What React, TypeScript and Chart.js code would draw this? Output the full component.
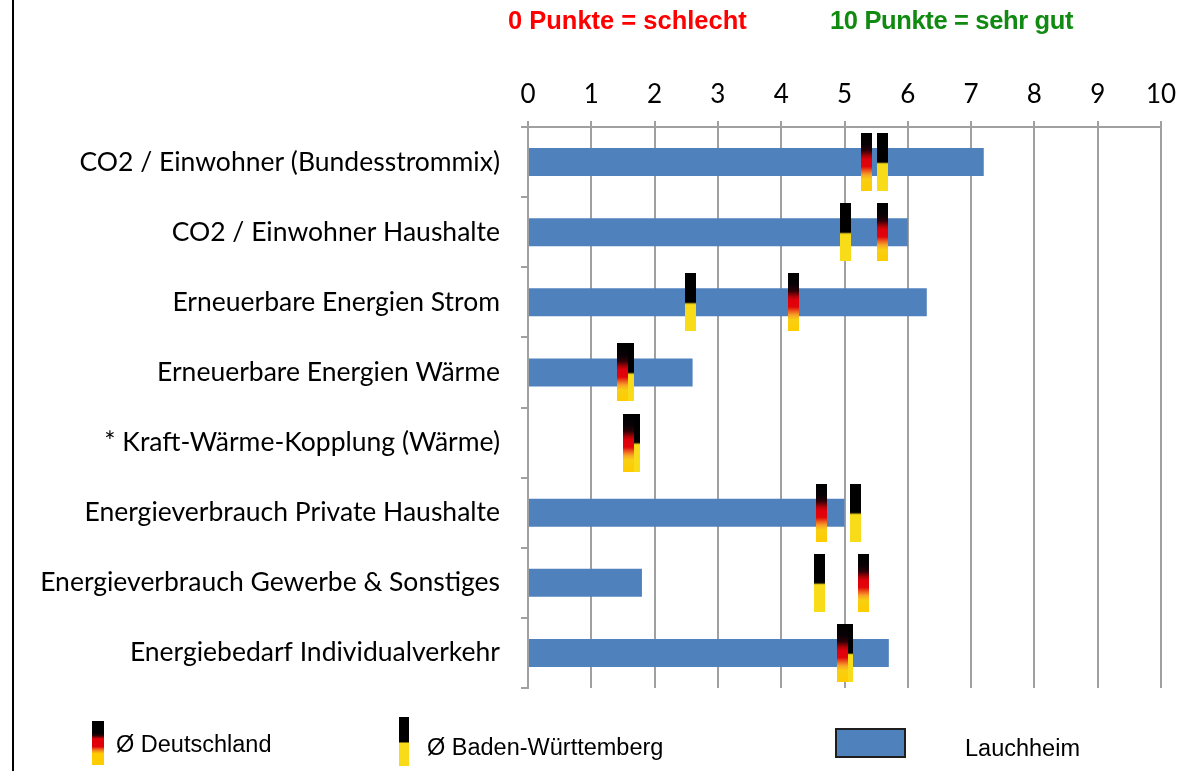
import React, { useEffect, useRef } from "react";
import { Chart, registerables } from "chart.js";

Chart.register(...registerables);

const categories = [
  "CO2 / Einwohner (Bundesstrommix)",
  "CO2 / Einwohner Haushalte",
  "Erneuerbare Energien Strom",
  "Erneuerbare Energien Wärme",
  "* Kraft-Wärme-Kopplung (Wärme)",
  "Energieverbrauch Private Haushalte",
  "Energieverbrauch Gewerbe & Sonstiges",
  "Energiebedarf Individualverkehr",
];
const lauchheim: (number | null)[] = [7.2, 6.0, 6.3, 2.6, null, 5.0, 1.8, 5.7];
const deutschland = [5.35, 5.6, 4.19, 1.49, 1.59, 4.64, 5.3, 4.97];
const badenWuerttemberg = [5.6, 5.02, 2.57, 1.59, 1.68, 5.17, 4.6, 5.05];
const xTicks = [0, 1, 2, 3, 4, 5, 6, 7, 8, 9, 10];

const AXIS_FONT = "Lato, 'Open Sans', sans-serif";
const GRID = "#A0A0A0";
const BAR = "#4F81BD";

function makeMarker(kind: "de" | "bw"): HTMLCanvasElement {
  const c = document.createElement("canvas");
  c.width = 11;
  c.height = 58;
  const ctx = c.getContext("2d")!;
  const g = ctx.createLinearGradient(0, 0, 0, 58);
  if (kind === "de") {
    g.addColorStop(0, "#000000");
    g.addColorStop(0.2, "#080206");
    g.addColorStop(0.3, "#2a0006");
    g.addColorStop(0.4, "#b00008");
    g.addColorStop(0.46, "#e0000c");
    g.addColorStop(0.58, "#e2060a");
    g.addColorStop(0.65, "#ee5a1e");
    g.addColorStop(0.72, "#f8a428");
    g.addColorStop(0.8, "#f8d012");
    g.addColorStop(1, "#ffcc00");
  } else {
    g.addColorStop(0, "#000000");
    g.addColorStop(0.5, "#000000");
    g.addColorStop(0.51, "#4a4210");
    g.addColorStop(0.53, "#f8dc1a");
    g.addColorStop(1, "#f8dc1a");
  }
  ctx.fillStyle = g;
  ctx.fillRect(0, 0, 11, 58);
  return c;
}

export default function App() {
  const ref = useRef<HTMLCanvasElement | null>(null);

  useEffect(() => {
    if (!ref.current) return;
    const deMarker = makeMarker("de");
    const bwMarker = makeMarker("bw");
    const chart = new Chart(ref.current, {
      type: "bar",
      data: {
        labels: categories,
        datasets: [
          {
            type: "line",
            label: "Ø Deutschland",
            indexAxis: "y",
            data: categories.map((c, i) => ({ x: deutschland[i], y: c })),
            showLine: false,
            pointStyle: deMarker as any,
            pointRadius: 6,
            order: 1,
          } as any,
          {
            type: "line",
            label: "Ø Baden-Württemberg",
            indexAxis: "y",
            data: categories.map((c, i) => ({ x: badenWuerttemberg[i], y: c })),
            showLine: false,
            pointStyle: bwMarker as any,
            pointRadius: 6,
            order: 2,
          } as any,
          {
            type: "bar",
            label: "Lauchheim",
            data: lauchheim,
            backgroundColor: BAR,
            borderWidth: 0,
            barPercentage: 0.4,
            categoryPercentage: 1,
            order: 3,
          },
        ],
      },
      options: {
        indexAxis: "y",
        responsive: false,
        animation: false,
        devicePixelRatio: 1,
        layout: { padding: { left: 0, right: 20, top: 40, bottom: 83 } },
        plugins: { legend: { display: false }, tooltip: { enabled: false } },
        scales: {
          x: {
            type: "linear",
            position: "top",
            min: 0,
            max: 10,
            afterBuildTicks: (s: any) => {
              s.ticks = xTicks.map((v) => ({ value: v }));
            },
            afterFit: (s: any) => {
              s.height = 87;
              s.paddingLeft = 0;
              s.paddingRight = 0;
            },
            ticks: {
              color: "#000",
              font: { family: AXIS_FONT, size: 26 },
              padding: 11,
              maxRotation: 0,
            },
            grid: { color: GRID, lineWidth: 2, tickLength: 6 },
            border: { display: true, color: GRID, width: 2 },
          },
          y: {
            type: "category",
            afterFit: (s: any) => {
              s.width = 528;
              s.paddingTop = 0;
              s.paddingBottom = 0;
            },
            ticks: {
              color: "#000",
              font: { family: AXIS_FONT, size: 26.5 },
              padding: 21,
            },
            grid: {
              offset: true,
              drawOnChartArea: false,
              drawTicks: true,
              tickLength: 7,
              color: GRID,
              lineWidth: 2,
            },
            border: { display: true, color: GRID, width: 2 },
          },
        },
      },
    });
    return () => chart.destroy();
  }, []);

  const legendText: React.CSSProperties = {
    position: "absolute",
    fontFamily: "'Liberation Sans', Arial, sans-serif",
    fontSize: 23.5,
    lineHeight: 1,
    color: "#000",
    whiteSpace: "nowrap",
  };
  const titleText: React.CSSProperties = {
    position: "absolute",
    fontFamily: "'Liberation Sans', Arial, sans-serif",
    fontWeight: "bold",
    fontSize: 25.5,
    lineHeight: 1,
    top: 8,
    whiteSpace: "nowrap",
  };

  return (
    <div
      style={{
        position: "absolute",
        left: 0,
        top: 0,
        width: 1181,
        height: 771,
        background: "#fff",
        overflow: "hidden",
      }}
    >
      <canvas ref={ref} width={1181} height={771} style={{ position: "absolute", left: 0, top: 0 }} />
      <div style={{ position: "absolute", left: 12, top: 0, width: 2, height: 771, background: "#000" }} />
      <div style={{ ...titleText, left: 508, color: "#FF0000" }}>0 Punkte = schlecht</div>
      <div style={{ ...titleText, left: 830, color: "#108A10", letterSpacing: -0.35 }}>10 Punkte = sehr gut</div>

      <div
        style={{
          position: "absolute",
          left: 92,
          top: 721,
          width: 12,
          height: 44,
          background:
            "linear-gradient(to bottom, #000 0%, #000 28%, #3a0004 34%, #e0000a 40%, #e0000a 58%, #f07a20 66%, #ffcc00 74%, #ffcc00 100%)",
        }}
      />
      <div style={{ ...legendText, left: 116, top: 733 }}>Ø Deutschland</div>

      <div
        style={{
          position: "absolute",
          left: 399,
          top: 717,
          width: 10,
          height: 49,
          background: "linear-gradient(to bottom, #000 0%, #000 51%, #f8dc1a 53%, #f8dc1a 100%)",
        }}
      />
      <div style={{ ...legendText, left: 427, top: 736 }}>Ø Baden-Württemberg</div>

      <div
        style={{
          position: "absolute",
          left: 835,
          top: 728,
          width: 71,
          height: 30,
          boxSizing: "border-box",
          border: "2px solid #1e1e1e",
          background: BAR,
        }}
      />
      <div style={{ ...legendText, left: 965, top: 737 }}>Lauchheim</div>
    </div>
  );
}
